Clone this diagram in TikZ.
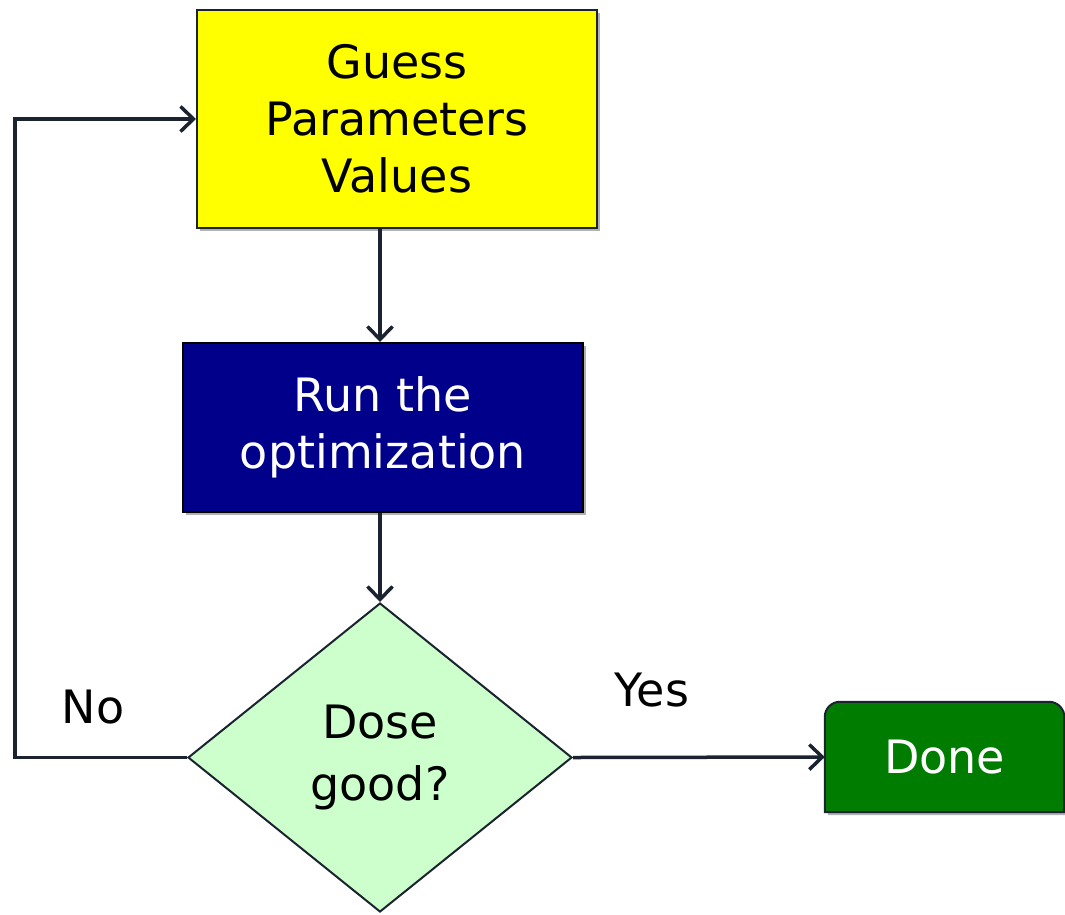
\documentclass[tikz,border=0pt]{standalone}
\usepackage{fontspec}
\setmainfont{DejaVu Sans}
\usetikzlibrary{shapes.geometric,arrows.meta,shadows,backgrounds}
\definecolor{linec}{HTML}{1B2230}
\definecolor{yel}{HTML}{FFFF00}
\definecolor{navy}{HTML}{00008A}
\definecolor{lgreen}{HTML}{CCFFCC}
\definecolor{dgreen}{HTML}{007D00}
\tikzset{
  shad/.style={drop shadow={shadow xshift=3pt,shadow yshift=-3pt,fill=black,opacity=0.3}},
  boxtxt/.style={font=\fontsize{46}{57}\selectfont,align=center,inner sep=0pt},
  arr/.style={draw=linec,line width=3.5pt,-{Straight Barb[length=13pt,width=25pt,line width=3.5pt]}},
}
\begin{document}
\begin{tikzpicture}[x=1pt,y=-1pt]
\useasboundingbox (0,0) rectangle (1065,914);
\node[boxtxt,shad,draw=linec,line width=2pt,fill=yel,minimum width=400pt,minimum height=218pt] (guess) at (397,119) {Guess\\Parameters\\Values};
\node[boxtxt,shad,draw=black,line width=2pt,fill=navy,text=white,minimum width=400pt,minimum height=169pt] (run) at (383,427.5) {Run the\\optimization};
\node[boxtxt,diamond,draw=linec,line width=2pt,fill=lgreen,aspect=1.243,minimum width=384pt,minimum height=309pt,font=\fontsize{46}{62}\selectfont] (dose) at (380,757.5) {Dose\\good?};
\node[boxtxt,text=white,minimum width=239pt,minimum height=110pt] (done) at (944.5,757) {Done};
\begin{scope}[on background layer]
\path[shad,draw=linec,line width=2pt,fill=dgreen] (done.south west) [rounded corners=15pt] -- (done.north west) -- (done.north east) [sharp corners] -- (done.south east) -- cycle;
\end{scope}
\coordinate (loop) at (15,757.5);
\draw[arr] (guess.south -| dose.north) -- (run.north -| dose.north);
\draw[arr] (run.south -| dose.north) -- (dose.north);
\draw[arr] (dose.east) -- (done.west);
\draw[arr] (dose.west) -- (loop) |- (guess.west);
\node[font=\fontsize{46}{57}\selectfont,inner sep=0pt] (no) at (93,707) {No};
\node[font=\fontsize{46}{57}\selectfont,inner sep=0pt] (yes) at (652,690) {Yes};
\end{tikzpicture}
\end{document}
